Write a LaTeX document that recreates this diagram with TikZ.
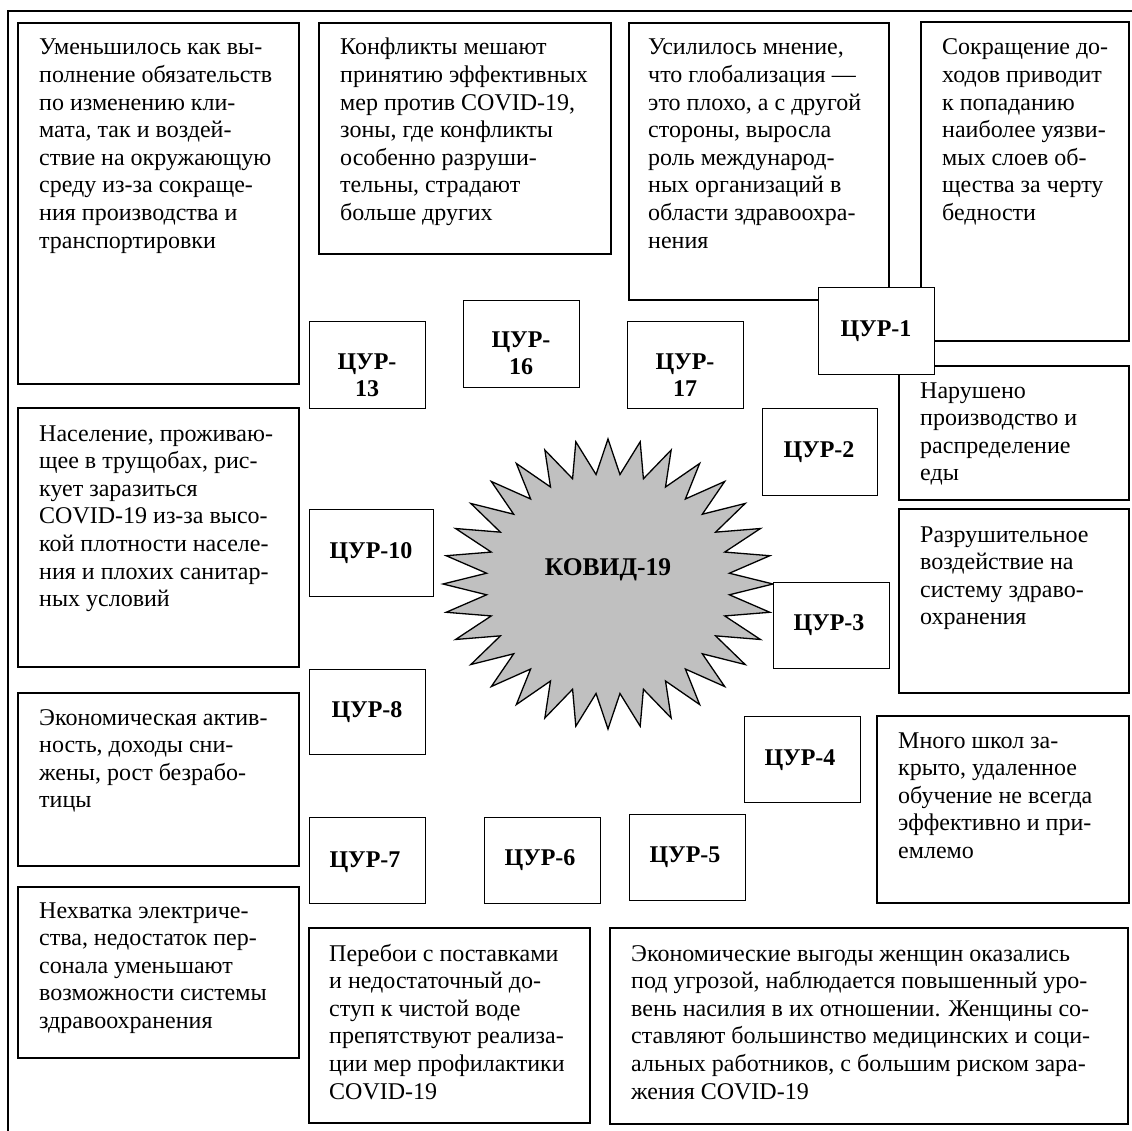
\documentclass[tikz,border=0pt]{standalone}
\usepackage{fontspec}
\setmainfont{Liberation Serif}
\definecolor{stargray}{RGB}{192,192,192}
\tikzset{
  frameline/.style={line width=1.5pt},
  tbox/.style={draw, line width=1.5pt, fill=white, inner sep=0pt, outer sep=0pt, anchor=north west},
  gbox/.style={draw, line width=0.9pt, fill=white, inner sep=0pt, outer sep=0pt, anchor=north west},
  body/.style={anchor=base west, inner sep=0pt, font=\fontsize{24}{27.6}\selectfont},
  lbl/.style={anchor=base, inner sep=0pt, font=\fontsize{24}{27}\selectfont\bfseries},
  starshape/.style={draw, line width=1.3pt, fill=stargray, line join=miter},
  startext/.style={anchor=base, inner sep=0pt, font=\fontsize{25.5}{28}\selectfont\bfseries}
}
% box: style, x1, y1, x2, y2, name
\newcommand\pbox[6]{\node[#1, minimum width={#4-#2}, minimum height={#5-#3}] (#6) at (#2,#3) {};}
\newcommand\lines[1]{\begin{tabular}[t]{@{}l@{}}#1\end{tabular}}
\newcommand\clines[1]{\begin{tabular}[t]{@{}c@{}}#1\end{tabular}}
\begin{document}
\begin{tikzpicture}[x=1pt, y=-1pt]
\useasboundingbox (0,0) rectangle (1132,1131);
% outer frame (cut off at right and bottom)
\coordinate (fa) at (8,1140);
\coordinate (fb) at (1140,11);
\draw[frameline] (fa) |- (fb);

% text boxes
\pbox{tbox}{18}{23}{299}{384}{b1}
\pbox{tbox}{319}{23}{611}{254}{b2}
\pbox{tbox}{629}{23}{889}{300}{b3}
\pbox{tbox}{921}{22}{1129}{341}{b4}
\pbox{tbox}{899}{366}{1129}{500}{b5}
\pbox{tbox}{899}{509}{1129}{693}{b6}
\pbox{tbox}{877}{716}{1129}{903}{b7}
\pbox{tbox}{610}{928}{1128}{1124}{b8}
\pbox{tbox}{309}{928}{590}{1123}{b9}
\pbox{tbox}{18}{887}{299}{1058}{b10}
\pbox{tbox}{18}{693}{299}{866}{b11}
\pbox{tbox}{18}{408}{299}{667}{b12}

% star
\draw[starshape] plot[variable=\k, samples at={0,...,63}]
  ({608+ifthenelse(mod(\k,2)==0,165,122)*cos(\k*5.625)},
   {584+ifthenelse(mod(\k,2)==0,145,110)*sin(\k*5.625)}) -- cycle;
\node[startext] (covid) at (608,575) {КОВИД-19};

% goal boxes
\pbox{gbox}{309}{321}{425}{408}{c13}
\pbox{gbox}{463}{300}{579}{387}{c16}
\pbox{gbox}{627}{321}{743}{408}{c17}
\pbox{gbox}{762}{408}{877}{495}{c2}
\pbox{gbox}{309}{509}{433}{596}{c10}
\pbox{gbox}{773}{582}{889}{668}{c3}
\pbox{gbox}{309}{669}{425}{754}{c8}
\pbox{gbox}{744}{716}{860}{802}{c4}
\pbox{gbox}{309}{817}{425}{903}{c7}
\pbox{gbox}{484}{817}{600}{903}{c6}
\pbox{gbox}{629}{814}{745}{900}{c5}
\pbox{gbox}{818}{287}{934}{374}{c1}

% goal labels
\node[lbl] (l13) at (367,370) {\clines{ЦУР-\\13}};
\node[lbl] (l16) at (521,348) {\clines{ЦУР-\\16}};
\node[lbl] (l17) at (685,370) {\clines{ЦУР-\\17}};
\node[lbl] (l1) at (876,337) {ЦУР-1};
\node[lbl] (l2) at (819,457) {ЦУР-2};
\node[lbl] (l10) at (371,558) {ЦУР-10};
\node[lbl] (l3) at (829,630) {ЦУР-3};
\node[lbl] (l8) at (367,717) {ЦУР-8};
\node[lbl] (l4) at (800,765) {ЦУР-4};
\node[lbl] (l7) at (365,867) {ЦУР-7};
\node[lbl] (l6) at (540,865) {ЦУР-6};
\node[lbl] (l5) at (685,862) {ЦУР-5};

% texts
\node[body] (t1) at (39,55) {\lines{Уменьшилось как вы-\\полнение обязательств\\по изменению кли-\\мата, так и воздей-\\ствие на окружающую\\среду из-за сокраще-\\ния производства и\\транспортировки}};
\node[body] (t2) at (340,55) {\lines{Конфликты мешают\\принятию эффективных\\мер против COVID-19,\\зоны, где конфликты\\особенно разруши-\\тельны, страдают\\больше других}};
\node[body] (t3) at (648,55) {\lines{Усилилось мнение,\\что глобализация —\\это плохо, а с другой\\стороны, выросла\\роль международ-\\ных организаций в\\области здравоохра-\\нения}};
\node[body] (t4) at (942,55) {\lines{Сокращение до-\\ходов приводит\\к попаданию\\наиболее уязви-\\мых слоев об-\\щества за черту\\бедности}};
\node[body] (t5) at (920,398) {\lines{Нарушено\\производство и\\распределение\\еды}};
\node[body] (t6) at (920,542) {\lines{Разрушительное\\воздействие на\\систему здраво-\\охранения}};
\node[body] (t7) at (898,748) {\lines{Много школ за-\\крыто, удаленное\\обучение не всегда\\эффективно и при-\\емлемо}};
\node[body] (t8) at (631,961) {\lines{Экономические выгоды женщин оказались\\под угрозой, наблюдается повышенный уро-\\вень насилия в их отношении. Женщины со-\\ставляют большинство медицинских и соци-\\альных работников, с большим риском зара-\\жения COVID-19}};
\node[body] (t9) at (329,961) {\lines{Перебои с поставками\\и недостаточный до-\\ступ к чистой воде\\препятствуют реализа-\\ции мер профилактики\\COVID-19}};
\node[body] (t10) at (39,918) {\lines{Нехватка электриче-\\ства, недостаток пер-\\сонала уменьшают\\возможности системы\\здравоохранения}};
\node[body] (t11) at (39,725) {\lines{Экономическая актив-\\ность, доходы сни-\\жены, рост безрабо-\\тицы}};
\node[body] (t12) at (39,441) {\lines{Население, проживаю-\\щее в трущобах, рис-\\кует заразиться\\COVID-19 из-за высо-\\кой плотности населе-\\ния и плохих санитар-\\ных условий}};
\end{tikzpicture}
\end{document}
